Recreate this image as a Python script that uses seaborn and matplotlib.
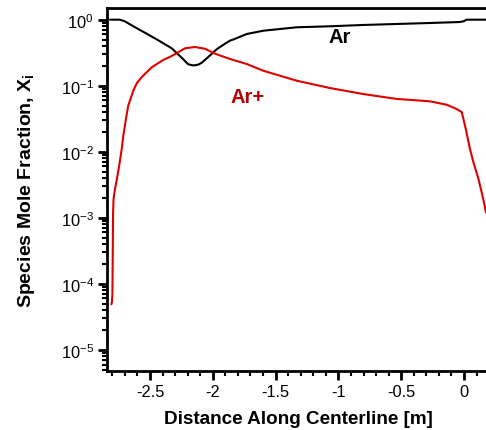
import numpy as np
import pandas as pd
import matplotlib
matplotlib.use("Agg")
import matplotlib.pyplot as plt
import seaborn as sns
from matplotlib.ticker import LogLocator, MultipleLocator, NullFormatter, FuncFormatter

# Centerline mole fraction of neutral argon (x in m, log10 of X)
ar_x = [-2.818, -2.739, -2.700, -2.659, -2.600, -2.540, -2.434, -2.327, -2.248,
        -2.195, -2.165, -2.142, -2.115, -2.088, -2.036, -1.969, -1.903, -1.863,
        -1.823, -1.730, -1.598, -1.332, -1.067, -0.802, -0.536, -0.271, -0.032,
        -0.005, 0.021, 0.127, 0.175]
ar_logx = [0.0, 0.0, -0.025, -0.070, -0.135, -0.197, -0.312, -0.433, -0.575,
           -0.675, -0.690, -0.691, -0.680, -0.652, -0.565, -0.448, -0.364, -0.318,
           -0.290, -0.217, -0.167, -0.115, -0.100, -0.080, -0.065, -0.050, -0.035,
           -0.025, 0.0, 0.0, 0.0]

# Centerline mole fraction of argon ions (x in m, log10 of X)
arp_x = [-2.807, -2.803, -2.799, -2.796, -2.794, -2.790, -2.779, -2.763, -2.747,
         -2.725, -2.712, -2.691, -2.673, -2.633, -2.604, -2.566, -2.486, -2.394,
         -2.327, -2.221, -2.142, -2.062, -1.982, -1.863, -1.730, -1.598, -1.332,
         -1.067, -0.802, -0.536, -0.271, -0.138, -0.058, -0.018, -0.005, 0.014,
         0.048, 0.075, 0.115, 0.154, 0.175]
arp_logx = [-4.31, -4.28, -4.16, -3.47, -2.94, -2.72, -2.57, -2.41, -2.236,
            -1.96, -1.758, -1.50, -1.303, -1.076, -0.96, -0.87, -0.721, -0.61,
            -0.55, -0.433, -0.414, -0.44, -0.515, -0.595, -0.671, -0.773, -0.924,
            -1.035, -1.126, -1.20, -1.236, -1.288, -1.353, -1.40, -1.50, -1.655,
            -1.96, -2.16, -2.41, -2.72, -2.92]

species_names = ["Ar", "Ar+"]
line_colors = ["#000000", "#e00000"]
label_colors = ["#000000", "#b00000"]

df = pd.concat([
    pd.DataFrame({"x": ar_x, "X": 10.0 ** np.array(ar_logx), "species": "Ar"}),
    pd.DataFrame({"x": arp_x, "X": 10.0 ** np.array(arp_logx), "species": "Ar+"}),
], ignore_index=True)

sns.set_style("ticks")
plt.rcParams["font.family"] = ["Liberation Sans", "DejaVu Sans"]
plt.rcParams["mathtext.fontset"] = "custom"
plt.rcParams["mathtext.rm"] = "Liberation Sans"
plt.rcParams["mathtext.bf"] = "Liberation Sans:bold"
plt.rcParams["text.color"] = "black"
plt.rcParams["axes.labelcolor"] = "black"
plt.rcParams["xtick.color"] = "black"
plt.rcParams["ytick.color"] = "black"

fig = plt.figure(figsize=(4.86, 4.31), dpi=100)
ax = fig.add_axes([107 / 486, 1 - 372 / 431, 383 / 486, 363 / 431])

for name, col in zip(species_names, line_colors):
    sub = df[df["species"] == name]
    sns.lineplot(data=sub, x="x", y="X", ax=ax, color=col, linewidth=1.5,
                 sort=False, estimator=None, legend=False)

ax.set_yscale("log")
ax.set_xlim(-2.842, 0.207)
ax.set_ylim(10 ** -5.32, 10 ** 0.177)

ax.xaxis.set_major_locator(MultipleLocator(0.5))
ax.xaxis.set_minor_locator(MultipleLocator(0.1))
ax.xaxis.set_major_formatter(FuncFormatter(lambda v, p: "0" if abs(v) < 1e-9 else f"{v:g}"))
ax.yaxis.set_major_locator(LogLocator(base=10, numticks=20))
ax.yaxis.set_minor_locator(LogLocator(base=10, subs=np.arange(2, 10), numticks=20))
ax.yaxis.set_minor_formatter(NullFormatter())

for side in ["left", "bottom", "top", "right"]:
    ax.spines[side].set_linewidth(2.0)
    ax.spines[side].set_color("black")

ax.tick_params(axis="both", which="major", direction="out", length=6.5, width=2,
               labelsize=11.8, colors="black", pad=3)
ax.tick_params(axis="both", which="minor", direction="out", length=3.5, width=1.5,
               colors="black")
ax.tick_params(top=False, right=False, which="both")

ax.set_xlabel("Distance Along Centerline [m]", fontsize=13.6, fontweight="bold",
              labelpad=8)
ax.set_ylabel(r"Species Mole Fraction, X$_\mathbf{i}$", fontsize=14, fontweight="bold",
              labelpad=17)

ax.text(-0.987, 10 ** -0.26, "Ar", color=label_colors[0], fontsize=14.5,
        fontweight="bold", ha="center", va="center")
ax.text(-1.724, 10 ** -1.156, "Ar+", color=label_colors[1], fontsize=14.5,
        fontweight="bold", ha="center", va="center")

fig.savefig("out.png", dpi=100)
